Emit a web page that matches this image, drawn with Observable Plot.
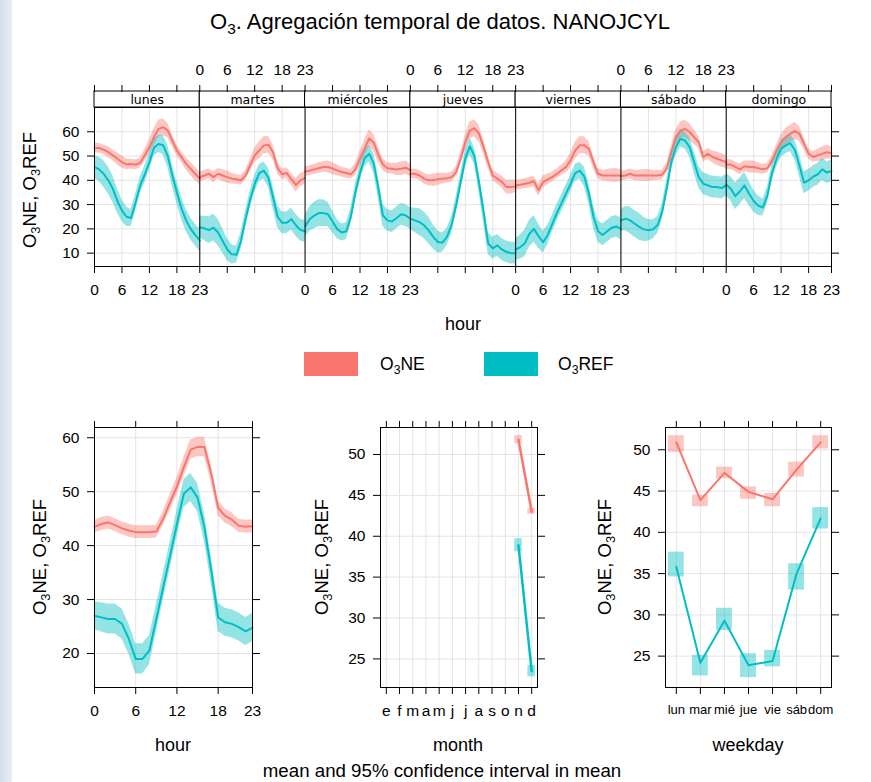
<!DOCTYPE html>
<html><head><meta charset="utf-8">
<script src="https://cdn.jsdelivr.net/npm/d3@7"></script>
<script src="https://cdn.jsdelivr.net/npm/@observablehq/plot@0.6"></script>
<style>
html,body{margin:0;padding:0;}
body{width:871px;height:782px;position:relative;overflow:hidden;background:linear-gradient(90deg,#d5dfec 0,#e6edf6 12px,#fff 12px);font-family:"Liberation Sans",Arial,sans-serif;color:#000;}
#page{position:absolute;left:12px;top:3px;right:0;bottom:0;background:#fff;}
.abs{position:absolute;white-space:nowrap;}
.plot{position:absolute;overflow:visible;}
.ylab{position:absolute;white-space:nowrap;transform:translate(-50%,-50%) rotate(-90deg);font-size:18.5px;}
.xlab{position:absolute;white-space:nowrap;transform:translate(-50%,-50%);font-size:18px;}
sub{font-size:0.7em;vertical-align:-0.3em;line-height:0;}
</style>
</head><body>
<div id="page"></div>
<script>
// ---------------- DATA ----------------
const seriesNames = ["O3NE", "O3REF"];
const seriesColors = ["#F8766D", "#00BFC4"];
const dayNames = ["lunes", "martes", "miércoles", "jueves", "viernes", "sábado", "domingo"];
const hours = [0,1,2,3,4,5,6,7,8,9,10,11,12,13,14,15,16,17,18,19,20,21,22,23];
const hourTicks = [0, 6, 12, 18, 23];

const ONE_lunes     = [53.3,53.3,52.6,51.6,50.3,48.9,47.5,46.6,46.7,46.4,47.2,50.3,53.7,57.8,61.2,61.9,60.5,56.4,52.3,49.6,46.8,44.8,42.7,40.7];
const REF_lunes     = [45.5,44.5,42.7,40.0,36.5,31.5,27.5,25.0,24.5,31.0,38.0,42.5,47.5,53.5,55.0,54.5,50.0,42.0,35.0,28.5,23.5,20.0,17.5,15.3];
const ONE_martes    = [41.3,42.0,42.7,41.3,42.7,42.0,41.3,40.7,40.4,40.0,42.0,46.1,50.3,52.3,54.4,54.7,51.6,45.0,42.5,43.0,40.5,38.0,40.0,41.0];
const REF_martes    = [20.7,20.2,19.5,20.5,18.5,15.0,11.5,9.5,9.3,15.0,24.0,32.0,38.5,43.0,44.0,41.0,33.0,25.0,22.5,22.5,24.0,21.5,19.5,19.0];
const ONE_miercoles = [43.5,44.0,44.5,45.0,45.5,45.5,44.8,44.1,43.4,43.0,42.5,44.5,49.0,53.0,57.3,55.5,50.5,46.5,45.0,44.8,44.5,44.8,45.2,44.1];
const REF_miercoles = [21.0,24.0,25.5,26.5,26.5,26.0,23.0,20.0,18.5,19.0,25.0,35.0,43.0,49.0,51.0,47.0,37.0,25.5,23.5,23.0,24.5,26.0,25.5,24.2];
const ONE_jueves    = [42.7,42.7,42.0,40.7,40.0,40.0,40.4,40.7,40.9,41.3,43.4,48.9,55.7,60.5,61.5,59.2,53.7,47.5,42.0,40.7,39.3,37.2,37.2,37.5];
const REF_jueves    = [24.2,23.5,22.8,21.5,19.4,16.7,14.6,14.3,16.7,21.5,29.7,39.3,48.9,54.0,50.0,39.0,27.0,14.0,12.0,13.2,11.5,10.5,10.0,10.0];
const ONE_viernes   = [37.9,38.2,38.6,39.0,39.6,35.9,39.3,40.4,41.3,42.7,44.1,45.5,48.2,52.3,54.4,54.4,53.0,47.5,42.7,42.0,42.0,42.0,42.0,42.0];
const REF_viernes   = [11.5,12.5,14.0,18.0,20.0,17.0,14.5,17.5,22.0,26.5,30.5,34.5,38.5,43.0,44.0,41.5,34.5,25.0,19.0,17.5,19.0,20.5,21.0,20.0];
const ONE_sabado    = [41.8,42.0,42.7,42.0,42.0,42.0,42.0,42.0,42.0,42.3,44.8,51.6,57.8,60.5,61.2,59.9,57.8,55.7,49.6,50.9,49.6,48.9,48.2,47.5];
const REF_sabado    = [23.5,24.2,23.5,22.1,20.8,19.8,19.4,19.8,21.5,26.9,36.5,47.5,53.7,57.1,56.4,53.7,47.5,41.3,38.6,37.9,37.2,37.2,36.8,37.9];
const ONE_domingo   = [46.5,46.5,45.5,44.5,45.8,45.5,45.5,45.0,44.5,45.0,48.0,52.3,55.7,57.8,59.2,60.3,59.2,55.0,51.0,49.6,50.3,50.9,51.6,51.2];
const REF_domingo   = [38.3,36.5,33.5,35.5,37.9,34.5,31.5,29.5,28.8,33.8,43.0,48.9,53.0,54.4,55.3,52.5,46.0,39.0,40.0,41.5,42.5,44.5,43.2,43.8];
// 95% CI half-widths (hour-of-day profile) for the day/hour panel
const CI_ONE_dayhour = [2.0,2.0,2.0,2.2,2.2,2.5,2.5,2.2,2.0,2.0,2.0,2.5,3.0,3.5,3.5,3.5,3.0,2.5,2.2,2.2,2.5,2.8,2.8,2.5];
const CI_REF_dayhour = [4.5,5.0,5.5,5.5,5.5,5.0,4.5,4.0,3.5,3.5,3.5,3.5,3.5,3.5,3.5,4.0,4.5,4.5,4.5,4.5,4.5,4.5,4.5,4.5];

// hour panel
const HOUR_ONE = [43.5,44.0,44.3,43.8,43.2,42.8,42.5,42.5,42.5,42.6,45.0,48.0,51.0,54.5,57.8,58.3,58.3,53.3,47.0,45.5,44.8,43.7,43.5,43.6];
const HOUR_REF = [27.0,26.7,26.4,26.4,25.5,22.7,19.0,19.0,20.6,26.4,32.3,38.1,44.0,49.6,50.8,48.9,43.4,35.4,26.7,25.8,25.5,24.9,24.1,24.8];
const CI_HOUR_ONE = [1.2,1.2,1.2,1.2,1.2,1.2,1.2,1.2,1.2,1.2,1.3,1.5,1.6,1.8,1.8,1.8,1.8,1.6,1.4,1.3,1.3,1.2,1.2,1.2];
const CI_HOUR_REF = [2.6,2.7,2.8,2.8,2.8,2.8,2.8,2.8,2.7,2.6,2.5,2.5,2.5,2.6,2.6,2.6,2.6,2.6,2.6,2.6,2.6,2.6,2.6,2.6];

// month panel
const monthLabels = ["e","f","m","a","m","j","j","a","s","o","n","d"];
const monthNum = [11, 12];
const MONTH_ONE = [51.8, 43.0], MONTH_ONE_lo = [51.3, 42.7], MONTH_ONE_hi = [52.3, 43.4];
const MONTH_REF = [38.9, 23.5], MONTH_REF_lo = [38.1, 22.8], MONTH_REF_hi = [39.7, 24.2];

// weekday panel
const weekdayLabels = ["lun","mar","mié","jue","vie","sáb","dom"];
const WD_ONE = [50.9, 43.9, 47.2, 44.9, 44.0, 47.6, 50.9];
const WD_ONE_lo = [49.7, 43.1, 46.5, 44.0, 43.1, 46.7, 50.1];
const WD_ONE_hi = [51.7, 44.5, 47.9, 45.5, 44.7, 48.5, 51.7];
const WD_REF = [35.8, 24.2, 29.3, 23.9, 24.4, 35.0, 41.7];
const WD_REF_lo = [34.6, 22.6, 28.1, 22.4, 23.7, 33.0, 40.4];
const WD_REF_hi = [37.6, 25.1, 30.8, 25.3, 25.7, 36.2, 43.0];

// ---------------- BUILD ----------------
const FONT = "Liberation Sans, Arial, sans-serif";
const GRID = "#e4e4e4";
const BAND_OP = 0.42;
const color = {domain: seriesNames, range: seriesColors};
const ONE_days = [ONE_lunes, ONE_martes, ONE_miercoles, ONE_jueves, ONE_viernes, ONE_sabado, ONE_domingo];
const REF_days = [REF_lunes, REF_martes, REF_miercoles, REF_jueves, REF_viernes, REF_sabado, REF_domingo];
const SPAN = 23;

const dayRows = [];
dayNames.forEach((dn, d) => {
  hours.forEach((h, k) => {
    dayRows.push({x: d*SPAN + h, series: "O3NE", key: "ONE"+d, v: ONE_days[d][k], lo: ONE_days[d][k]-CI_ONE_dayhour[k], hi: ONE_days[d][k]+CI_ONE_dayhour[k]});
  });
});
dayNames.forEach((dn, d) => {
  hours.forEach((h, k) => {
    dayRows.push({x: d*SPAN + h, series: "O3REF", key: "REF"+d, v: REF_days[d][k], lo: REF_days[d][k]-CI_REF_dayhour[k], hi: REF_days[d][k]+CI_REF_dayhour[k]});
  });
});
const posSet = new Set();
const bottomMap = new Map(), topMap = new Map();
dayNames.forEach((dn, d) => hourTicks.forEach(h => {
  const p = d*SPAN + h; posSet.add(p);
  (d % 2 === 0 ? bottomMap : topMap).set(p, String(h));
}));
const allPos = Array.from(posSet);
const dayEdges = dayNames.slice(1).map((dn, i) => (i+1)*SPAN);

function place(svg, left, top) {
  svg.classList.add("plot");
  svg.style.left = left + "px";
  svg.style.top = top + "px";
  document.body.appendChild(svg);
}
const baseStyle = {fontFamily: FONT, fontSize: "15.5px", color: "#000", background: "transparent", overflow: "visible"};

// strip + top axis
const strip = Plot.plot({
  width: 871, height: 57, marginLeft: 94, marginRight: 40, marginTop: 41, marginBottom: 0,
  x: {domain: [0, 7*SPAN]}, y: {domain: [0, 1], axis: null},
  style: baseStyle,
  marks: [
    Plot.rect(dayNames, {x1: (d, i) => i*SPAN, x2: (d, i) => (i+1)*SPAN, fill: "#fff", stroke: "#000"}),
    Plot.text(dayNames, {x: (d, i) => i*SPAN + SPAN/2, text: d => d, fontFamily: "DejaVu Sans, sans-serif", fontSize: 12.5, letterSpacing: "1px", fill: "#000"}),
    Plot.axisX({anchor: "top", ticks: allPos, tickSize: 7, tickPadding: 10, tickFormat: p => topMap.get(p) ?? "", label: null})
  ]
});
place(strip, 0, 50);

// main day/hour panel
const main = Plot.plot({
  width: 871, height: 159 + 60, marginLeft: 94, marginRight: 40, marginTop: 0, marginBottom: 60,
  x: {domain: [0, 7*SPAN]}, y: {domain: [4.5, 70]}, color,
  style: baseStyle,
  marks: [
    Plot.gridX({ticks: allPos, stroke: GRID, strokeOpacity: 1}),
    Plot.gridY({ticks: [10,20,30,40,50,60], stroke: GRID, strokeOpacity: 1}),
    Plot.areaY(dayRows, {x: "x", y1: "lo", y2: "hi", z: "key", fill: "series", fillOpacity: BAND_OP}),
    Plot.line(dayRows, {x: "x", y: "v", z: "key", stroke: "series", strokeWidth: 2}),
    Plot.ruleX(dayEdges, {stroke: "#000"}),
    Plot.frame({stroke: "#000"}),
    Plot.axisX({anchor: "bottom", ticks: allPos, tickSize: 7, tickPadding: 10, tickFormat: p => bottomMap.get(p) ?? "", label: null}),
    Plot.axisY({anchor: "left", ticks: [10,20,30,40,50,60], tickSize: 7, tickPadding: 8, label: null}),
    Plot.axisY({anchor: "right", ticks: [10,20,30,40,50,60], tickSize: 7, tickFormat: () => "", label: null})
  ]
});
place(main, 0, 107);

// hour panel
const hourRows = [];
hours.forEach((h, k) => hourRows.push({x: h, series: "O3NE", v: HOUR_ONE[k], lo: HOUR_ONE[k]-CI_HOUR_ONE[k], hi: HOUR_ONE[k]+CI_HOUR_ONE[k]}));
hours.forEach((h, k) => hourRows.push({x: h, series: "O3REF", v: HOUR_REF[k], lo: HOUR_REF[k]-CI_HOUR_REF[k], hi: HOUR_REF[k]+CI_HOUR_REF[k]}));

function smallPanel(opts) {
  return Plot.plot({
    width: opts.width, height: 27 + 260 + 40, marginLeft: opts.ml, marginRight: opts.mr, marginTop: 27, marginBottom: 40,
    x: {domain: opts.xdom}, y: {domain: opts.ydom}, color,
    style: baseStyle,
    marks: [
      Plot.gridX({ticks: opts.xticks, stroke: GRID, strokeOpacity: 1}),
      Plot.gridY({ticks: opts.yticks, stroke: GRID, strokeOpacity: 1}),
      ...opts.marks,
      Plot.frame({stroke: "#000"}),
      Plot.axisX({anchor: "bottom", ticks: opts.xticks, tickSize: 7, tickPadding: 10, tickFormat: opts.xfmt, fontSize: opts.xfs, label: null}),
      Plot.axisX({anchor: "top", ticks: opts.xticks, tickSize: 7, tickFormat: () => "", label: null}),
      Plot.axisY({anchor: "left", ticks: opts.yticks, tickSize: 7, tickPadding: 8, label: null}),
      Plot.axisY({anchor: "right", ticks: opts.yticks, tickSize: 7, tickFormat: () => "", label: null})
    ]
  });
}

const p1 = smallPanel({
  width: 290, ml: 94, mr: 38, xdom: [0, 23], ydom: [13.7, 61.9],
  xticks: hourTicks, yticks: [20,30,40,50,60], xfmt: d => String(d),
  marks: [
    Plot.areaY(hourRows, {x: "x", y1: "lo", y2: "hi", z: "series", fill: "series", fillOpacity: BAND_OP}),
    Plot.line(hourRows, {x: "x", y: "v", z: "series", stroke: "series", strokeWidth: 2})
  ]
});
place(p1, 0, 400);

const monthRows = [];
monthNum.forEach((m, k) => monthRows.push({x: m, series: "O3NE", v: MONTH_ONE[k], lo: MONTH_ONE_lo[k], hi: MONTH_ONE_hi[k]}));
monthNum.forEach((m, k) => monthRows.push({x: m, series: "O3REF", v: MONTH_REF[k], lo: MONTH_REF_lo[k], hi: MONTH_REF_hi[k]}));
const MBOX = 0.29;
const p2 = smallPanel({
  width: 290, ml: 90, mr: 43, xdom: [0.56, 12.44], ydom: [21.5, 53.3],
  xticks: d3.range(1, 13), yticks: [25,30,35,40,45,50], xfmt: m => monthLabels[m-1],
  marks: [
    Plot.rect(monthRows, {x1: d => d.x - MBOX, x2: d => d.x + MBOX, y1: "lo", y2: "hi", fill: "series", fillOpacity: BAND_OP}),
    Plot.line(monthRows, {x: "x", y: "v", z: "series", stroke: "series", strokeWidth: 2.5})
  ]
});
place(p2, 290, 400);

const wdRows = [];
weekdayLabels.forEach((w, k) => wdRows.push({x: k+1, series: "O3NE", v: WD_ONE[k], lo: WD_ONE_lo[k], hi: WD_ONE_hi[k]}));
weekdayLabels.forEach((w, k) => wdRows.push({x: k+1, series: "O3REF", v: WD_REF[k], lo: WD_REF_lo[k], hi: WD_REF_hi[k]}));
const WBOX = 0.33;
const p3 = smallPanel({
  width: 291, ml: 85, mr: 40, xdom: [0.55, 7.45], ydom: [21.2, 52.7], xfs: 13,
  xticks: d3.range(1, 8), yticks: [25,30,35,40,45,50], xfmt: i => weekdayLabels[i-1],
  marks: [
    Plot.rect(wdRows, {x1: d => d.x - WBOX, x2: d => d.x + WBOX, y1: "lo", y2: "hi", fill: "series", fillOpacity: BAND_OP}),
    Plot.line(wdRows, {x: "x", y: "v", z: "series", stroke: "series", strokeWidth: 2})
  ]
});
place(p3, 580, 400);

// ---------------- TEXT ----------------
function addDiv(cls, html, x, y, extra) {
  const el = document.createElement("div");
  el.className = cls; el.innerHTML = html;
  el.style.left = x + "px"; el.style.top = y + "px";
  if (extra) Object.assign(el.style, extra);
  document.body.appendChild(el);
  return el;
}
const yTitle = "O<sub>3</sub>NE, O<sub>3</sub>REF";
addDiv("xlab", "O<sub>3</sub>. Agregación temporal de datos. NANOJCYL", 440, 22, {fontSize: "22px"});
addDiv("ylab", yTitle, 30, 190);
addDiv("xlab", "hour", 463, 324);
addDiv("ylab", yTitle, 40, 557);
addDiv("ylab", yTitle, 322, 557);
addDiv("ylab", yTitle, 605, 557);
addDiv("xlab", "hour", 173, 745);
addDiv("xlab", "month", 458, 745);
addDiv("xlab", "weekday", 748, 745);
addDiv("xlab", "mean and 95% confidence interval in mean", 442, 771, {fontSize: "18.7px"});
// legend
seriesNames.forEach((s, i) => {
  const sw = document.createElement("div");
  sw.className = "abs";
  Object.assign(sw.style, {left: (304 + i*180) + "px", top: "352px", width: "54px", height: "24px", background: seriesColors[i]});
  document.body.appendChild(sw);
  addDiv("abs", s.replace("O3", "O<sub>3</sub>"), 380 + i*178, 354, {fontSize: "17.5px"});
});
</script>
</body></html>
